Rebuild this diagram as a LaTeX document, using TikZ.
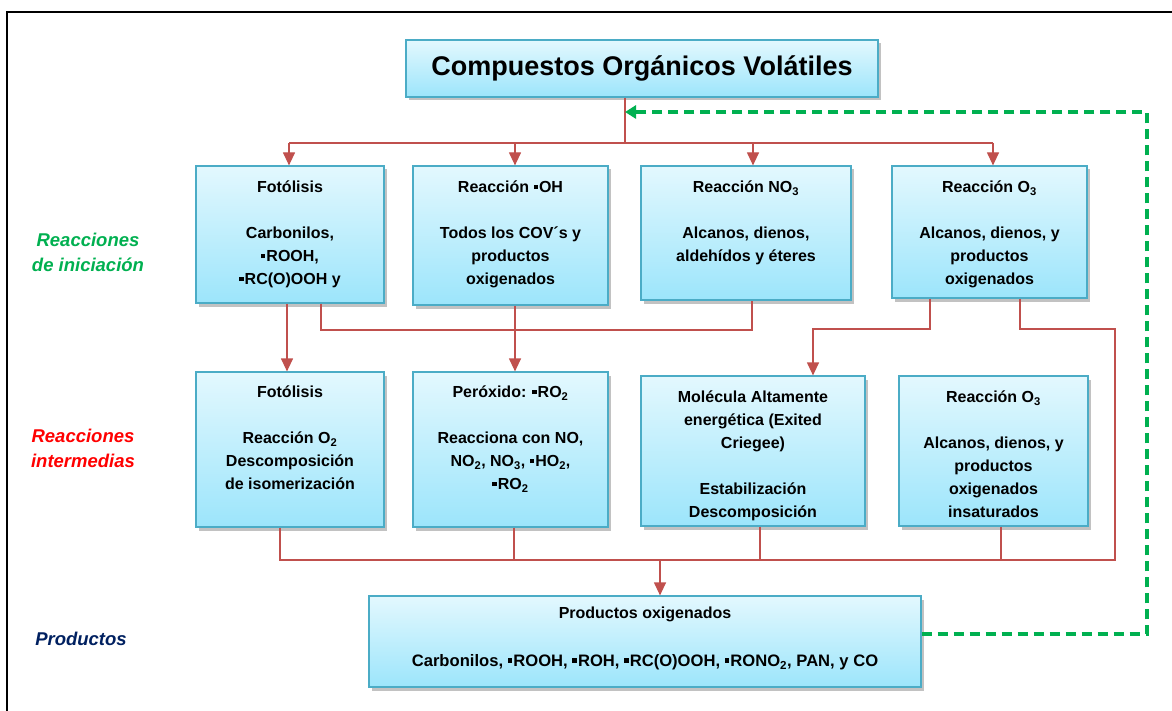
\documentclass[tikz,border=0pt]{standalone}
\usepackage{fontspec}
\setmainfont{Liberation Sans}
\usetikzlibrary{arrows.meta,shadows}

\definecolor{rojocon}{HTML}{C0504D}
\definecolor{bordecaja}{HTML}{4BACC6}
\definecolor{cieloarriba}{HTML}{E3F8FE}
\definecolor{cieloabajo}{HTML}{9CE5FB}
\definecolor{verdeini}{HTML}{00B050}
\definecolor{rojoint}{HTML}{FF0000}
\definecolor{azulprod}{HTML}{002060}

% radical (cuadrito negro)
\newcommand{\rad}{\rule[0.22em]{0.27em}{0.27em}\hspace{0.07em}}
% texto de caja alineado arriba: [espacio]{ancho}{alto}{texto}
\newcommand{\caja}[4][10.5pt]{\parbox[c][#3][t]{#2}{\centering\vspace*{#1}\strut#4}}

\begin{document}
\begin{tikzpicture}[x=1pt,y=-1pt,font=\bfseries\fontsize{16}{23}\selectfont,
		cbox/.style={draw=bordecaja,line width=1.2pt,top color=cieloarriba,bottom color=cieloabajo,inner sep=0pt,
			drop shadow={shadow xshift=2.5pt,shadow yshift=-3.5pt,opacity=0.4,fill=black!60}},
		con/.style={draw=rojocon,line width=1.2pt},
		flecha/.style={con,-{Triangle[length=13pt,width=12pt]}},
		retro/.style={draw=verdeini,line width=3.2pt,dash pattern=on 10pt off 6pt,-{Triangle[length=11pt,width=13pt]}},
		etiqueta/.style={font=\bfseries\itshape\fontsize{18.5}{25}\selectfont,align=center}]
	\useasboundingbox (0,0) rectangle (1172,711);
	% marco
	\draw[line width=2pt] (7,711) -- (7,12) -- (1172,12);
	% cajas
	\node[cbox,minimum width=472pt,minimum height=57pt,font=\bfseries\fontsize{27}{32}\selectfont] (cov) at (642,68.5) {Compuestos Orgánicos Volátiles};
	\node[cbox] (b1) at (290,234.5) {\caja{188pt}{137pt}{Fotólisis\\[23pt]Carbonilos,\\\rad ROOH,\\\rad RC(O)OOH y}};
	\node[cbox] (b2) at (510.5,235.5) {\caja{195pt}{139pt}{Reacción \rad OH\\[23pt]Todos los COV´s y\\productos\\oxigenados}};
	\node[cbox] (b3) at (746,233) {\caja{210pt}{134pt}{Reacción NO\textsubscript{3}\\[23pt]Alcanos, dienos,\\aldehídos y éteres}};
	\node[cbox] (b4) at (989.5,232) {\caja{195pt}{132pt}{Reacción O\textsubscript{3}\\[23pt]Alcanos, dienos, y\\productos\\oxigenados}};
	\node[cbox] (c1) at (290,449.5) {\caja[9.5pt]{188pt}{155pt}{Fotólisis\\[23pt]Reacción O\textsubscript{2}\\Descomposición\\de isomerización}};
	\node[cbox] (c2) at (510.5,449.5) {\caja[9.5pt]{195pt}{155pt}{Peróxido: \rad RO\textsubscript{2}\\[23pt]Reacciona con NO,\\NO\textsubscript{2}, NO\textsubscript{3}, \rad HO\textsubscript{2},\\\rad RO\textsubscript{2}}};
	\node[cbox] (c3) at (753,451) {\caja{224pt}{150pt}{Molécula Altamente\\energética (Exited\\Criegee)\\[23pt]Estabilización\\Descomposición}};
	\node[cbox] (c4) at (993.5,451) {\caja{189pt}{150pt}{Reacción O\textsubscript{3}\\[23pt]Alcanos, dienos, y\\productos\\oxigenados\\insaturados}};
	\node[cbox] (prod) at (645,641.5) {\caja[6.5pt]{552pt}{91pt}{Productos oxigenados\\[25pt]{\fontsize{16.6}{23}\selectfont Carbonilos, \rad ROOH, \rad ROH, \rad RC(O)OOH, \rad RONO\textsubscript{2}, PAN, y CO}}};
	% etiquetas
	\node[etiqueta,text=verdeini] (ini) at (88,252.5) {Reacciones\\de iniciación};
	\node[etiqueta,text=rojoint] (inter) at (83,448.5) {Reacciones\\intermedias};
	\node[etiqueta,text=azulprod] (prd) at (81,639) {Productos};
	% puntos de reparto
	\coordinate (r1) at (625,143);
	\coordinate (j1) at (752,330);
	\coordinate (j2) at (813,329);
	\coordinate (j3) at (1115,329);
	\coordinate (r2) at (660,560);
	\coordinate (esq) at (1147,112);
	\coordinate (vuelta) at (625,112);
	% iniciacion
	\draw[con] (cov.south -| r1) -- (r1);
	\draw[con] ([xshift=-1pt]b1.north |- r1) -- ([xshift=3.5pt]b4.north |- r1);
	\foreach \b/\d in {b1/-1,b2/4.5,b3/7,b4/3.5}
		\draw[flecha] ([xshift=\d pt]\b.north |- r1) -- ([xshift=\d pt]\b.north);
	% intermedias
	\draw[flecha] ([xshift=-3pt]b1.south) -- ([xshift=-3pt]c1.north);
	\draw[con] ([xshift=31pt]b1.south) |- (j1) -- ([xshift=6pt]b3.south);
	\draw[flecha] ([xshift=4.5pt]b2.south) -- ([xshift=4.5pt]c2.north);
	\draw[flecha] ([xshift=-59.5pt]b4.south) |- (j2) -- ([xshift=60pt]c3.north);
	\draw[con] ([xshift=30.5pt]b4.south) |- (j3) |- (r2);
	% productos
	\draw[con] ([xshift=-10pt]c1.south) |- (r2);
	\foreach \c/\d in {c2/3.5,c3/7,c4/7.5}
		\draw[con] ([xshift=\d pt]\c.south) -- ([xshift=\d pt]\c.south |- r2);
	\draw[flecha] (r2) -- ([xshift=15pt]prod.north);
	% retroalimentacion
	\draw[retro] ([yshift=7.5pt]prod.east) -| (esq) -- (vuelta);
\end{tikzpicture}
\end{document}
